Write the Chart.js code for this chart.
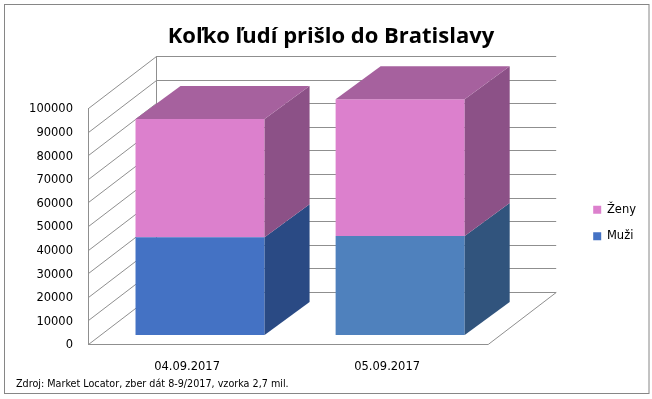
<!DOCTYPE html>
<html>
<head>
<meta charset="utf-8">
<script src="https://cdn.jsdelivr.net/npm/chart.js@4.4.1/dist/chart.umd.min.js"></script>
<style>
  html, body { margin: 0; padding: 0; background: #fff; }
  #chart { display: block; }
</style>
</head>
<body>
<canvas id="chart" width="652" height="399"></canvas>
<script>
// data
const categories = ['04.09.2017', '05.09.2017'];
const muzi = [41400, 41900];
const zeny = [50100, 58000];
const yTicks = [0, 10000, 20000, 30000, 40000, 50000, 60000, 70000, 80000, 90000, 100000];

// colours (front / side / top)
const muziFront = ['#4472C4', '#4F81BD'];
const muziSide = ['#2A4A84', '#31547D'];
const zenyFront = ['#DC80CD', '#DC80CD'];
const zenySide = ['#8C5187', '#8C5187'];
const zenyTop = ['#A6619E', '#A6619E'];
const sideColors = [muziSide, zenySide];

// 3d offsets relative to the bar plane
const front = { dx: -12, dy: 9 };
const back = { dx: 56, dy: -43 };
const deep = { dx: 45, dy: -33 };

const font = { family: 'DejaVu Sans', size: 11.5 };

function poly(ctx, pts, color) {
	ctx.beginPath();
	ctx.moveTo(pts[0][0], pts[0][1]);
	for (let i = 1; i < pts.length; i++) ctx.lineTo(pts[i][0], pts[i][1]);
	ctx.closePath();
	ctx.fillStyle = color;
	ctx.fill();
}

const box3d = {
	id: 'box3d',
	beforeDraw(chart) {
		const ctx = chart.ctx;
		ctx.save();
		ctx.fillStyle = '#fff';
		ctx.fillRect(0, 0, chart.width, chart.height);
		ctx.strokeStyle = '#868686';
		ctx.lineWidth = 1;
		ctx.strokeRect(4.5, 4.5, 644.5, 389);
		ctx.restore();
	},
	beforeDatasetsDraw(chart) {
		const { ctx, chartArea: a, scales: { y } } = chart;
		const top = y.getPixelForValue(y.max);
		const zero = y.getPixelForValue(0);
		ctx.save();
		ctx.strokeStyle = '#8f8f8f';
		ctx.lineWidth = 1;
		ctx.beginPath();
		y.ticks.forEach(t => {
			const py = Math.round(y.getPixelForValue(t.value)) + 0.5;
			ctx.moveTo(a.left + front.dx + 0.5, py + front.dy);
			ctx.lineTo(a.left + back.dx + 0.5, py + back.dy);
			ctx.lineTo(a.right + back.dx, py + back.dy);
		});
		// wall edges
		ctx.moveTo(a.left + front.dx + 0.5, Math.round(top) + front.dy);
		ctx.lineTo(a.left + front.dx + 0.5, Math.round(zero) + front.dy + 0.5);
		ctx.moveTo(a.left + back.dx + 0.5, Math.round(top) + back.dy);
		ctx.lineTo(a.left + back.dx + 0.5, Math.round(zero) + back.dy);
		// floor
		const fy = Math.round(zero) + front.dy + 0.5;
		ctx.moveTo(a.left + front.dx, fy);
		ctx.lineTo(a.right + front.dx, fy);
		ctx.lineTo(a.right + back.dx, Math.round(zero) + back.dy + 0.5);
		ctx.stroke();
		ctx.restore();
	},
	afterDatasetsDraw(chart) {
		const ctx = chart.ctx;
		const last = chart.data.datasets.length - 1;
		ctx.save();
		chart.data.datasets.forEach((ds, di) => {
			chart.getDatasetMeta(di).data.forEach((bar, i) => {
				const { x, y, base, width } = bar.getProps(['x', 'y', 'base', 'width'], true);
				const l = x - width / 2;
				const r = x + width / 2;
				poly(ctx, [[r, y], [r + deep.dx, y + deep.dy], [r + deep.dx, base + deep.dy], [r, base]], sideColors[di][i]);
				if (di === last) {
					poly(ctx, [[l, y], [l + deep.dx, y + deep.dy], [r + deep.dx, y + deep.dy], [r, y]], zenyTop[i]);
				}
			});
		});
		ctx.restore();
	}
};

const ctx = document.getElementById('chart').getContext('2d');
const myChart = new Chart(ctx, {
	type: 'bar',
	data: {
		labels: categories,
		datasets: [
			{
				label: 'Muži',
				data: muzi,
				backgroundColor: c => c.type === 'data' ? muziFront[c.dataIndex] : muziFront[1],
				borderWidth: 0,
				categoryPercentage: 1,
				barPercentage: 0.645
			},
			{
				label: 'Ženy',
				data: zeny,
				backgroundColor: c => c.type === 'data' ? zenyFront[c.dataIndex] : zenyFront[0],
				borderWidth: 0,
				categoryPercentage: 1,
				barPercentage: 0.645
			}
		]
	},
	options: {
		responsive: false,
		animation: false,
		devicePixelRatio: 1,
		events: [],
		layout: { padding: { left: 16, right: 6, top: 0, bottom: 4 } },
		plugins: {
			title: {
				display: true,
				text: 'Koľko ľudí prišlo do Bratislavy',
				color: '#000',
				font: { family: "'Open Sans'", size: 22, weight: 'bold' },
				padding: { top: 23.8, bottom: 48.8 }
			},
			subtitle: {
				display: true,
				position: 'bottom',
				align: 'start',
				text: 'Zdroj: Market Locator, zber dát 8-9/2017, vzorka 2,7 mil.',
				color: '#000',
				font: { family: "'Liberation Sans Narrow', 'DejaVu Sans Condensed', 'Liberation Sans'", size: 10.7 },
				padding: { top: 0, bottom: 4 }
			},
			legend: {
				position: 'right',
				fullSize: false,
				reverse: true,
				title: { display: true, text: '', padding: 0, font: { size: 10 } },
				labels: { boxWidth: 8, boxHeight: 8, padding: 15, color: '#000', font }
			},
			tooltip: { enabled: false }
		},
		scales: {
			x: {
				stacked: true,
				grid: { display: false, drawTicks: false },
				border: { display: false },
				ticks: { color: '#000', font, padding: 25, labelOffset: -13 },
				afterFit: s => { s.height = 43.16; }
			},
			y: {
				stacked: true,
				min: 0,
				max: 100000,
				grid: { display: false, drawTicks: false },
				border: { display: false },
				ticks: { color: '#000', font, padding: 27, labelOffset: 10.5, callback: v => String(v) },
				afterBuildTicks: s => { s.ticks = yTicks.map(v => ({ value: v })); },
				afterFit: s => { s.width = 84; }
			},
			spacer: {
				position: 'right',
				display: true,
				grid: { display: false, drawTicks: false },
				border: { display: false },
				ticks: { display: false },
				afterFit: s => { s.width = 78; }
			}
		}
	},
	plugins: [box3d]
});
</script>
</body>
</html>
